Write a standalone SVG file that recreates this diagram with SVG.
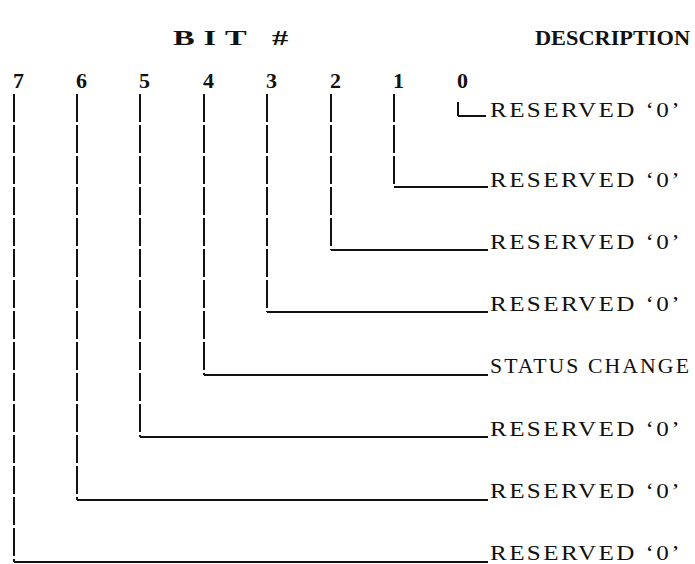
<svg xmlns="http://www.w3.org/2000/svg" width="695" height="564" viewBox="0 0 695 564">
<style>
.t{font-family:"Liberation Serif",serif;font-size:21px;fill:#111;letter-spacing:2px}
.h{font-family:"Liberation Serif",serif;font-size:22px;font-weight:bold;fill:#111}
.d{font-family:"Liberation Serif",serif;font-size:22px;font-weight:bold;fill:#111}
.v{stroke:#111;stroke-width:2;fill:none;stroke-dasharray:28 3}
.hl{stroke:#111;stroke-width:2;fill:none}
</style>
<rect width="695" height="564" fill="#fff"/>
<g id="headers">
<text class="h" x="173" y="45" textLength="124" lengthAdjust="spacingAndGlyphs" style="letter-spacing:6px">BIT #</text>
<text class="h" x="535" y="45" textLength="155" lengthAdjust="spacingAndGlyphs">DESCRIPTION</text>
</g>
<g id="bit-numbers">
<text class="d" x="13" y="88">7</text>
<text class="d" x="76" y="88">6</text>
<text class="d" x="139" y="88">5</text>
<text class="d" x="203" y="88">4</text>
<text class="d" x="266" y="88">3</text>
<text class="d" x="330" y="88">2</text>
<text class="d" x="393" y="88">1</text>
<text class="d" x="457" y="88">0</text>
</g>
<g id="connectors">
<path class="v" d="M458,102V116"/><path class="hl" d="M458,116H486"/>
<path class="v" d="M394,94V187"/><path class="hl" d="M394,187H488"/>
<path class="v" d="M331,94V250"/><path class="hl" d="M331,250H488"/>
<path class="v" d="M267,94V312"/><path class="hl" d="M267,312H488"/>
<path class="v" d="M204,94V375"/><path class="hl" d="M204,375H488"/>
<path class="v" d="M140,94V437"/><path class="hl" d="M140,437H488"/>
<path class="v" d="M77,94V500"/><path class="hl" d="M77,500H488"/>
<path class="v" d="M14,94V562"/><path class="hl" d="M14,562H488"/>
</g>
<g id="bit0"><text class="t" x="490" y="117" textLength="192" lengthAdjust="spacingAndGlyphs">RESERVED ‘0’</text></g>
<g id="bit1"><text class="t" x="490" y="187" textLength="192" lengthAdjust="spacingAndGlyphs">RESERVED ‘0’</text></g>
<g id="bit2"><text class="t" x="490" y="249" textLength="192" lengthAdjust="spacingAndGlyphs">RESERVED ‘0’</text></g>
<g id="bit3"><text class="t" x="490" y="311" textLength="192" lengthAdjust="spacingAndGlyphs">RESERVED ‘0’</text></g>
<g id="bit4"><text class="t" x="490" y="373" textLength="201" lengthAdjust="spacingAndGlyphs">STATUS CHANGE</text></g>
<g id="bit5"><text class="t" x="490" y="436" textLength="192" lengthAdjust="spacingAndGlyphs">RESERVED ‘0’</text></g>
<g id="bit6"><text class="t" x="490" y="498" textLength="192" lengthAdjust="spacingAndGlyphs">RESERVED ‘0’</text></g>
<g id="bit7"><text class="t" x="490" y="560" textLength="192" lengthAdjust="spacingAndGlyphs">RESERVED ‘0’</text></g>
</svg>
